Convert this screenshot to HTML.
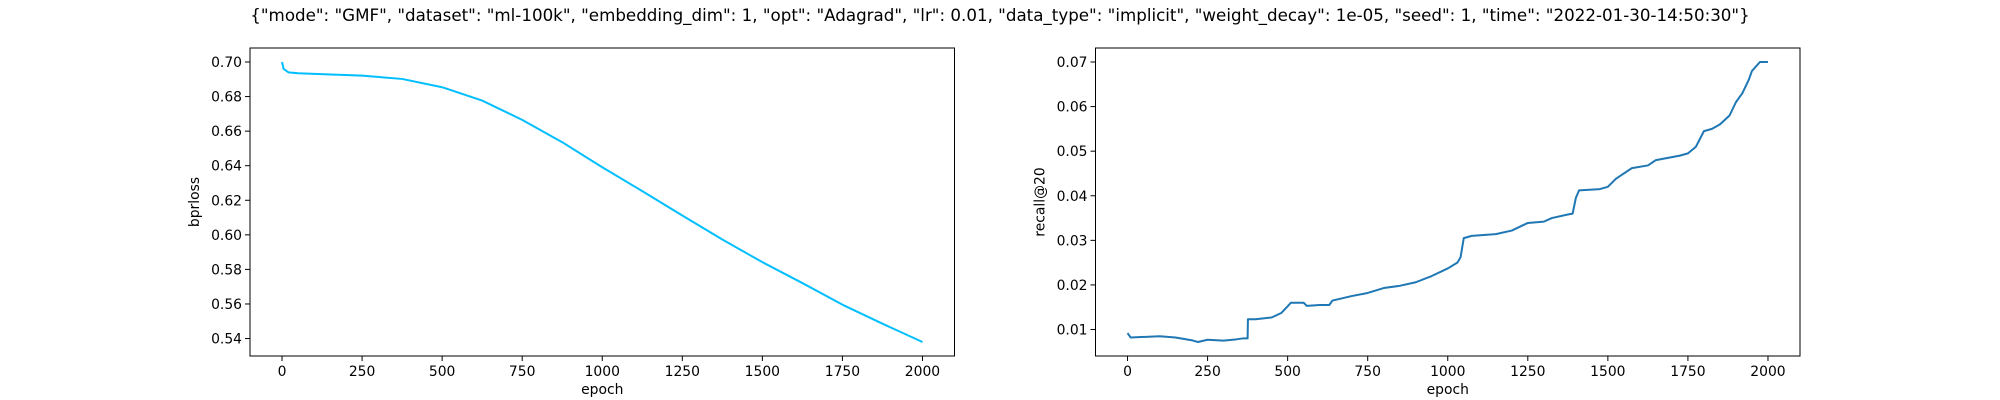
<!DOCTYPE html>
<html><head><meta charset="utf-8"><style>
html,body{margin:0;padding:0;background:#fff}
svg{display:block;font-family:"DejaVu Sans","Liberation Sans",sans-serif}
</style></head><body>
<svg id="fig" width="2000" height="400" xmlns="http://www.w3.org/2000/svg">
<rect width="2000" height="400" fill="#fff"/>
<text x="1000" y="21" font-size="16.7" text-anchor="middle">{"mode": "GMF", "dataset": "ml-100k", "embedding_dim": 1, "opt": "Adagrad", "lr": 0.01, "data_type": "implicit", "weight_decay": 1e-05, "seed": 1, "time": "2022-01-30-14:50:30"}</text>
<g id="left"></g>
<g id="right"></g>
</svg>
<script>
const lossEpochs=[0,5,20,50,100,250,375,500,625,750,875,1000,1125,1250,1375,1500,1625,1750,1875,2000];
const lossValues=[0.700,0.696,0.694,0.6935,0.6931,0.6921,0.6902,0.6854,0.6777,0.6665,0.6536,0.6391,0.6253,0.6112,0.5973,0.5842,0.5721,0.5596,0.5486,0.538];
const lossTicks=[0.54,0.56,0.58,0.60,0.62,0.64,0.66,0.68,0.70];
const recallEpochs=[0,10,100,150,200,220,250,300,340,360,375,376,400,450,480,500,510,550,560,600,630,640,700,750,800,850,900,950,1000,1030,1040,1050,1075,1150,1200,1250,1300,1325,1375,1390,1400,1410,1475,1500,1525,1550,1575,1625,1650,1725,1750,1775,1800,1825,1850,1880,1900,1920,1940,1950,1975,2000];
const recallValues=[0.0092,0.0082,0.0085,0.0082,0.0076,0.0072,0.0077,0.0075,0.0078,0.0080,0.0080,0.0123,0.0123,0.0127,0.0137,0.0152,0.0160,0.0160,0.0153,0.0155,0.0155,0.0165,0.0175,0.0182,0.0193,0.0198,0.0206,0.0220,0.0237,0.0250,0.0262,0.0305,0.0310,0.0314,0.0322,0.0339,0.0342,0.0350,0.0358,0.0360,0.0395,0.0412,0.0415,0.0420,0.0438,0.0450,0.0462,0.0468,0.0480,0.0490,0.0495,0.0510,0.0545,0.0550,0.0560,0.0580,0.0610,0.0630,0.0660,0.0680,0.0700,0.0700];
const recallTicks=[0.01,0.02,0.03,0.04,0.05,0.06,0.07];
const xTicks=[0,250,500,750,1000,1250,1500,1750,2000];
const NS="http://www.w3.org/2000/svg";
function mk(p,tag,attrs){const e=document.createElementNS(NS,tag);for(const k in attrs)e.setAttribute(k,attrs[k]);p.appendChild(e);return e;}
function chart(g,x0,w,xs,ys,yt,dec,color,ylabel,prefix){
  const top=48,h=308;
  const xmin=Math.min(...xs),xmax=Math.max(...xs),ymin=Math.min(...ys),ymax=Math.max(...ys);
  const xm=(xmax-xmin)*0.05,ym=(ymax-ymin)*0.05;
  const X=v=>x0+(v-(xmin-xm))/((xmax+xm)-(xmin-xm))*w;
  const Y=v=>top+h-(v-(ymin-ym))/((ymax+ym)-(ymin-ym))*h;
  const pts=xs.map((x,i)=>X(x).toFixed(2)+","+Y(ys[i]).toFixed(2)).join(" ");
  const line=mk(g,"polyline",{points:pts,fill:"none",stroke:color,"stroke-width":2,"stroke-linejoin":"round"});
  
  
  const fr=mk(g,"rect",{x:x0,y:top,width:w,height:h,fill:"none",stroke:"#000","stroke-width":1});
  
  
  xTicks.forEach(t=>{
    const tx=X(t);
    mk(g,"line",{x1:tx,y1:top+h,x2:tx,y2:top+h+5,stroke:"#000"});
    const tl=mk(g,"text",{x:tx,y:top+h+20,"font-size":13.9,"text-anchor":"middle"});
    tl.textContent=t;
    
    
  });
  yt.forEach(t=>{
    const ty=Y(t);
    mk(g,"line",{x1:x0-5,y1:ty,x2:x0,y2:ty,stroke:"#000"});
    const tl=mk(g,"text",{x:x0-8,y:ty+5,"font-size":13.9,"text-anchor":"end"});
    tl.textContent=t.toFixed(dec);
    
    
  });
  const xl=mk(g,"text",{x:x0+w/2,y:top+h+38,"font-size":13.9,"text-anchor":"middle"});
  xl.textContent="epoch";
  
  
  const lx=x0-51,ly=top+h/2;
  const yl=mk(g,"text",{x:lx,y:ly,"font-size":13.9,"text-anchor":"middle",transform:`rotate(-90 ${lx} ${ly})`});
  yl.textContent=ylabel;
  
  
}
chart(document.getElementById("left"),250,704.5,lossEpochs,lossValues,lossTicks,2,"#00bfff","bprloss","loss");
chart(document.getElementById("right"),1095.5,704.5,recallEpochs,recallValues,recallTicks,2,"#1f77b4","recall@20","recall");
</script>
</body></html>
